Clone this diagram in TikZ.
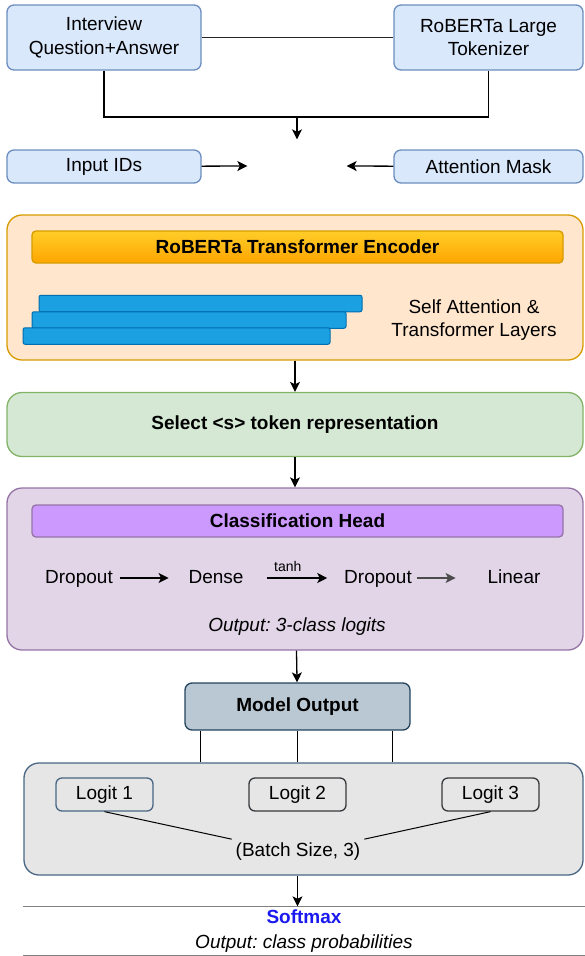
\documentclass[tikz,border=0pt]{standalone}
\usepackage{fontspec}
\setmainfont{Liberation Sans}
\usetikzlibrary{arrows.meta, positioning}
\frenchspacing

\definecolor{inputfill}{HTML}{DAE8FC}
\definecolor{inputline}{HTML}{6C8EBF}
\definecolor{encfill}{HTML}{FFE6CC}
\definecolor{encline}{HTML}{D79B00}
\definecolor{enctop}{HTML}{FFCD28}
\definecolor{encbottom}{HTML}{FFA500}
\definecolor{layerfill}{HTML}{1BA1E2}
\definecolor{layerline}{HTML}{006EAF}
\definecolor{selfill}{HTML}{D5E8D4}
\definecolor{selline}{HTML}{82B366}
\definecolor{headfill}{HTML}{E1D5E7}
\definecolor{headline}{HTML}{9673A6}
\definecolor{titlefill}{HTML}{CC99FF}
\definecolor{outfill}{HTML}{BAC8D3}
\definecolor{outline}{HTML}{23445D}
\definecolor{logitfill}{HTML}{E6E6E6}
\definecolor{logitline}{HTML}{4A6785}
\definecolor{darkline}{HTML}{36393D}
\definecolor{softblue}{HTML}{1A1AF0}

\begin{document}
\begin{tikzpicture}[
x=1pt, y=-1pt,
font=\fontsize{19}{23.5}\selectfont,
line width=1.3pt,
arr/.style={-{Stealth[length=10pt, width=10pt, inset=2.5pt]}},
inbox/.style={
rectangle,
rounded corners=7pt,
draw=inputline,
fill=inputfill,
align=center,
inner sep=0pt,
},
container/.style={
rectangle,
rounded corners=15pt,
draw,
align=center,
inner sep=0pt,
},
titlebar/.style={
rectangle,
rounded corners=4pt,
draw,
minimum width=531pt,
minimum height=32pt,
inner sep=0pt,
font=\fontsize{19}{23.5}\selectfont\bfseries,
},
layer/.style={
rectangle,
rounded corners=2pt,
draw=layerline,
fill=layerfill,
minimum height=16.5pt,
inner sep=0pt,
line width=1pt,
},
stage/.style={
text height=14pt,
text depth=4pt,
},
logit/.style={
rectangle,
rounded corners=6pt,
fill=logitfill,
minimum width=97pt,
minimum height=33pt,
inner sep=0pt,
},
]
\useasboundingbox (0,0) rectangle (584,956);

% inputs
\node [inbox, minimum width=194pt, minimum height=65pt] at (104,37.5) (qa)
{Interview\\Question+Answer};
\node [inbox, minimum width=189pt, minimum height=65pt] at (488.5,37.5) (tok)
{RoBERTa Large\\Tokenizer};
\node [inbox, minimum width=194pt, minimum height=33pt] at (104,166.5) (ids) {Input IDs};
\node [inbox, minimum width=189pt, minimum height=33pt] at (488.5,166.5) (mask) {Attention Mask};

% empty spot where the inputs meet
\node [minimum width=98pt, minimum height=52pt, inner sep=0pt] at (297,166) (merge) {};
\coordinate (join) at (297,117);

\draw [black!85] (qa.east) -- (tok.west);
\draw (qa.south) |- (join) -| (tok.south);
\draw [arr] (join) -- (merge.north);
\draw [arr] (ids) -- (merge.west);
\draw [arr] (mask) -- (merge.east);

% encoder
\node [container, fill=encfill, draw=encline, minimum width=576pt, minimum height=145pt]
at (295,287.5) (enc) {};
\node [titlebar, top color=enctop, bottom color=encbottom, draw=encline]
at (297.5,247) (enctitle) {RoBERTa Transformer Encoder};

\foreach \name/\cx/\cy/\w in {layer1/200.5/303.5/323, layer2/189/320/314, layer3/176.5/336/307}
\node [layer, minimum width=\w pt] at (\cx,\cy) (\name) {};

\node [align=center] at (474,320) (selfatt) {Self Attention \&\\Transformer Layers};

% <s> token
\node [container, fill=selfill, draw=selline, minimum width=576pt, minimum height=64pt,
font=\fontsize{19}{23.5}\selectfont\bfseries]
at (295,424.5) (sel) {Select <s> token representation};

% classification head
\node [container, fill=headfill, draw=headline, minimum width=576pt, minimum height=162pt]
at (295,569) (head) {};
\node [titlebar, fill=titlefill, draw=headline] at (297.5,521) (headtitle) {Classification Head};

\path [every node/.style={stage}]
(79,578) node (drop1) {Dropout}
(216,578) node (dense) {Dense}
(378,578) node (drop2) {Dropout}
(514,578) node (linear) {Linear}
;
\node at (297,627) (hout) {\itshape Output: 3-class logits};

\draw [arr, shorten <=3pt, shorten >=16pt] (drop1) -- (dense);
\draw [arr, shorten <=20pt, shorten >=13pt] (dense) --
node [above=2pt, xshift=-6pt, font=\fontsize{14}{16}\selectfont] (tanh) {tanh} (drop2);
\draw [arr, draw=black!70, shorten <=1pt, shorten >=28pt] (drop2) -- (linear);

\draw [arr] (enc) -- (sel);
\draw [arr] (sel) -- (head);

% model output
\node [container, rounded corners=7pt, fill=outfill, draw=outline, minimum width=225pt,
minimum height=47pt, font=\fontsize{19}{23.5}\selectfont\bfseries]
at (297.5,706.5) (mout) {Model Output};
\draw [arr] (head) -- (mout);

\node [container, fill=logitfill, draw=logitline, minimum width=559pt, minimum height=112pt]
at (303.5,819) (lbox) {};

\draw [line width=1pt]
(mout.south west) ++(16,0) coordinate (o1) -- (o1 |- lbox.north)
(mout.south) -- (mout.south |- lbox.north)
(mout.south east) ++(-18,0) coordinate (o3) -- (o3 |- lbox.north)
;

\node [logit, draw=logitline] at (104.5,794.5) (logit1) {Logit 1};
\node [logit, draw=darkline] at (297.5,794.5) (logit2) {Logit 2};
\node [logit, draw=darkline] at (490.5,794.5) (logit3) {Logit 3};

\node at (298,852) (batch) {(Batch Size, 3)};
\draw [line width=1pt]
(logit1.south) -- (batch.north west)
(logit3.south) -- (batch.north east)
;

% softmax
\node [minimum width=560pt, minimum height=48pt, inner sep=0pt, align=center,
font=\fontsize{19}{25}\selectfont]
at (304,931) (soft) {\textcolor{softblue}{\bfseries Softmax}\\\itshape Output: class probabilities};
\draw [black!50, line width=1pt]
(soft.north west) -- (soft.north east)
(soft.south west) -- (soft.south east)
;
\draw [arr] (lbox.south -| mout.south) -- (soft.north -| mout.south);

\end{tikzpicture}
\end{document}
